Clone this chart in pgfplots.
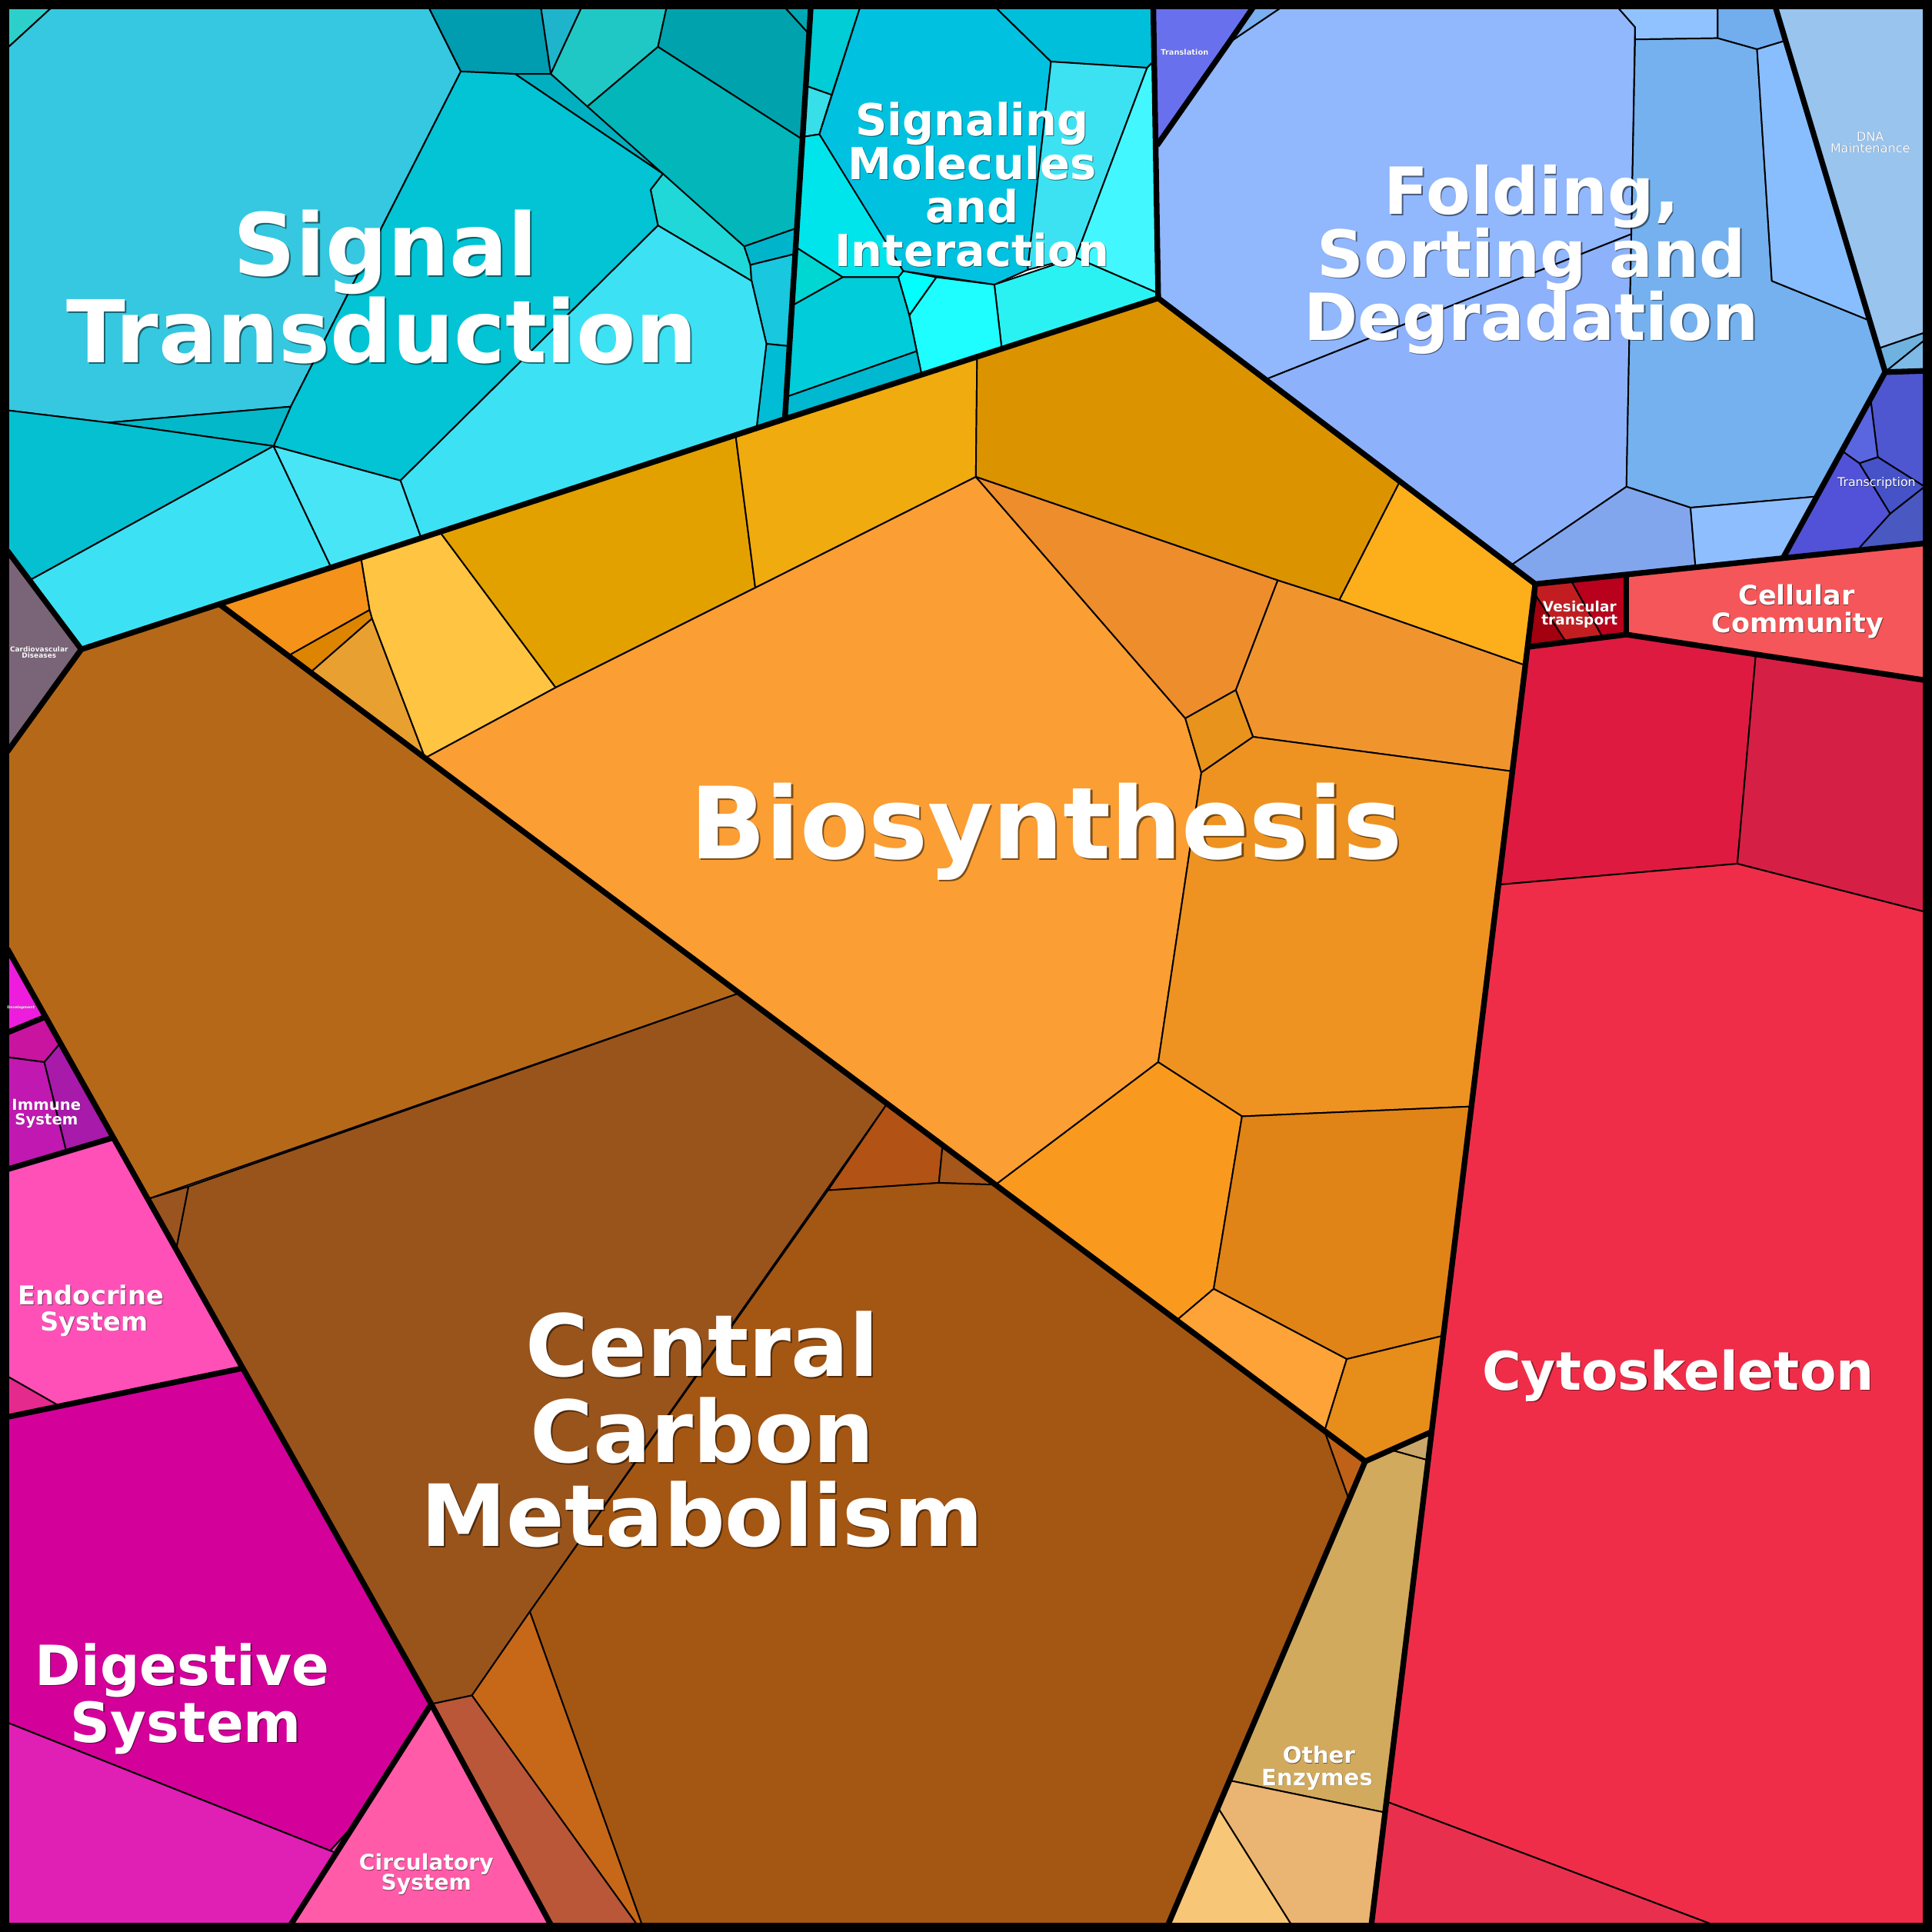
\documentclass[border=0pt]{standalone}
\usepackage{fontspec}
\setmainfont{DejaVu Sans}
\usepackage{pgfplots}
\pgfplotsset{compat=1.18}
% Signal Transduction
\definecolor{s1}{HTML}{2DCFCB}\definecolor{s2}{HTML}{35C8E0}\definecolor{s3}{HTML}{009CB0}
\definecolor{s4}{HTML}{1EB5CC}\definecolor{s5}{HTML}{1FC8C5}\definecolor{s6}{HTML}{00A3AD}
\definecolor{s7}{HTML}{00A8B5}\definecolor{s8}{HTML}{02B6BA}\definecolor{s9}{HTML}{00B0C0}
\definecolor{s10}{HTML}{20D8D8}\definecolor{s11}{HTML}{00B5CB}\definecolor{s12}{HTML}{19C7DE}
\definecolor{s13}{HTML}{00BCD4}\definecolor{s14}{HTML}{02C4D4}\definecolor{s15}{HTML}{3CE1F4}
\definecolor{s16}{HTML}{02B8C9}\definecolor{s17}{HTML}{05C0D0}\definecolor{s18}{HTML}{3CE2F4}
\definecolor{s19}{HTML}{48E5F6}
% Signaling Molecules
\definecolor{m1}{HTML}{00CDD5}\definecolor{m2}{HTML}{38DEE8}\definecolor{m3}{HTML}{00C2E0}
\definecolor{m4}{HTML}{00BFDB}\definecolor{m5}{HTML}{3DE2F2}\definecolor{m6}{HTML}{42F7FF}
\definecolor{m7}{HTML}{2AF2F2}\definecolor{m8}{HTML}{00FFFF}\definecolor{m9}{HTML}{1EFDFF}
\definecolor{m10}{HTML}{00E5EC}\definecolor{m11}{HTML}{00D6D2}\definecolor{m12}{HTML}{00CCDA}
\definecolor{m13}{HTML}{00B8D0}
% Biosynthesis
\definecolor{b1}{HTML}{F5921A}\definecolor{b2}{HTML}{DD8400}\definecolor{b3}{HTML}{E8A030}
\definecolor{b4}{HTML}{FFC441}\definecolor{b5}{HTML}{E3A100}\definecolor{b6}{HTML}{F0AB0E}
\definecolor{b7}{HTML}{DC9300}\definecolor{b8}{HTML}{FDAF1B}\definecolor{b9}{HTML}{FB9E33}
\definecolor{b10}{HTML}{EE8D2C}\definecolor{b11}{HTML}{E8931C}\definecolor{b12}{HTML}{F0952E}
\definecolor{b13}{HTML}{EE9322}\definecolor{b14}{HTML}{F99A1E}\definecolor{b15}{HTML}{E08417}
\definecolor{b16}{HTML}{FDA337}\definecolor{b17}{HTML}{E78D1A}
% Central carbon
\definecolor{c1}{HTML}{B56918}\definecolor{c2}{HTML}{9A5420}\definecolor{c3}{HTML}{99541C}
\definecolor{c4}{HTML}{B25214}\definecolor{c5}{HTML}{A5561A}\definecolor{c6}{HTML}{A45613}
\definecolor{c7}{HTML}{BF6218}\definecolor{c8}{HTML}{C66818}\definecolor{c9}{HTML}{BA5738}
% Other enzymes
\definecolor{o1}{HTML}{D2AA5E}\definecolor{o2}{HTML}{C9A66A}\definecolor{o3}{HTML}{EAB472}
\definecolor{o4}{HTML}{F7C676}
% Cytoskeleton etc.
\definecolor{y1}{HTML}{DF1A40}\definecolor{y2}{HTML}{D61F45}\definecolor{y3}{HTML}{F02D48}
\definecolor{y4}{HTML}{E8304E}
\definecolor{v1}{HTML}{A30010}\definecolor{v2}{HTML}{C21E22}\definecolor{v3}{HTML}{B9001C}
\definecolor{cc}{HTML}{F55659}
% Folding etc.
\definecolor{f0}{HTML}{7AAFF0}\definecolor{f1}{HTML}{91B7FD}\definecolor{f2}{HTML}{8DB2FB}
\definecolor{f3}{HTML}{90C2FF}\definecolor{f4}{HTML}{72ADEE}\definecolor{f5}{HTML}{74B1EE}
\definecolor{f6}{HTML}{89BEFE}\definecolor{f7}{HTML}{81A6EE}\definecolor{f8}{HTML}{8FBEFF}
\definecolor{t0}{HTML}{6870EE}
\definecolor{d1}{HTML}{98C4EE}\definecolor{d2}{HTML}{6FB2DF}\definecolor{d3}{HTML}{7DBAE8}
\definecolor{tr1}{HTML}{4E56D0}\definecolor{tr2}{HTML}{5A65E0}\definecolor{tr3}{HTML}{4552C8}
\definecolor{tr4}{HTML}{5152D8}\definecolor{tr5}{HTML}{4A58C2}
% left side
\definecolor{cardio}{HTML}{7A6478}\definecolor{dev}{HTML}{EE1CDC}
\definecolor{im1}{HTML}{C8149E}\definecolor{im2}{HTML}{C018B0}\definecolor{im3}{HTML}{A81AAA}
\definecolor{en1}{HTML}{FF50B8}\definecolor{en2}{HTML}{E42A8C}
\definecolor{dg1}{HTML}{D4009A}\definecolor{dg2}{HTML}{E01FB5}\definecolor{dg3}{HTML}{E83CB0}
\definecolor{circ}{HTML}{FF5BA8}

\newcommand{\cell}[2]{\addplot[fill=#1,draw=black,line width=0.35pt,line join=round] coordinates {#2} -- cycle;}
\newcommand{\thick}[1]{\addplot[draw=black,line width=1.3pt,line join=round] coordinates {#1};}
\newcommand{\clab}[5]{%
 \node[anchor=base,text=black,opacity=0.5,inner sep=0pt,font=#4\fontsize{#3}{#3}\selectfont] at ([xshift={0.018*#3pt},yshift={-0.018*#3pt}]axis cs:#1,#2) {#5};
 \node[anchor=base,text=white,inner sep=0pt,font=#4\fontsize{#3}{#3}\selectfont] at (axis cs:#1,#2) {#5};}

\begin{document}
\begin{tikzpicture}
\begin{axis}[width=15.68cm,height=15.68cm,scale only axis,
  xmin=0,xmax=1568,ymin=0,ymax=1568,y dir=reverse,hide axis]
% ---- Signal Transduction
\cell{s1}{(6,6)(42,6)(6,39)}
\cell{s2}{(42,6)(348,6)(374,58)(236,330)(88,343)(6,333)(6,39)}
\cell{s3}{(348,6)(439,6)(447,60)(418,60)(374,58)}
\cell{s4}{(439,6)(472,6)(447,60)}
\cell{s5}{(472,6)(541,6)(534,38)(476,87)(447,60)}
\cell{s6}{(541,6)(637,6)(657,28)(651,113)(534,38)}
\cell{s7}{(637,6)(658,6)(657,28)}
\cell{s8}{(534,38)(651,113)(647,185)(604,200)(476,87)}
\cell{s9}{(418,60)(447,60)(538,141)}
\cell{s10}{(538,141)(604,200)(609,215)(610,228)(534,183)(528,154)}
\cell{s11}{(604,200)(647,185)(645.5,206)(609,215)}
\cell{s12}{(609,215)(645.5,206)(641,281)(622,279)(610,228)}
\cell{s13}{(622,279)(641,281)(637,340)(614,347.5)}
\cell{s14}{(374,58)(418,60)(538,141)(528,154)(534,183)(325,390)(222,362)(236,330)}
\cell{s15}{(534,183)(610,228)(622,279)(614,347.5)(342,437.3)(325,390)}
\cell{s16}{(88,343)(236,330)(222,362)}
\cell{s17}{(6,333)(88,343)(222,362)(24,471)(6,447)}
\cell{s18}{(24,471)(222,362)(269,461)(66,527)}
\cell{s19}{(222,362)(325,390)(342,437.3)(269,461)}
% ---- Signaling Molecules and Interaction
\cell{m1}{(658,6)(698,6)(675,77)(655,70)}
\cell{m2}{(655,70)(675,77)(665,109)(652,111)}
\cell{m3}{(665,109)(698,6)(808,6)(853,50)(834,219)(807,231)(733,220)}
\cell{m4}{(808,6)(936,6)(937,49)(931,55)(853,50)}
\cell{m5}{(853,50)(931,55)(873,209)(834,219)}
\cell{m6}{(931,55)(937,49)(940,238)(873,209)}
\cell{m7}{(807,231)(873,209)(940,238)(940,242)(813,283)}
\cell{m8}{(733,220)(760,225)(738,256)(729,225)}
\cell{m9}{(760,225)(807,231)(813,283)(748,304)(744,285)(738,256)}
\cell{m10}{(652,111)(665,109)(720,198)(733,220)(729,225)(684,225)(646.5,201)}
\cell{m11}{(646.5,201)(684,225)(643,248)}
\cell{m12}{(643,248)(684,225)(729,225)(738,256)(744,285)(638.5,322)}
\cell{m13}{(638.5,322)(744,285)(748,304)(637,340)}
% ---- Translation, Folding, DNA, Transcription
\cell{t0}{(936,6)(1017,6)(997,35)(939,118)}
\cell{f0}{(1017,6)(1040,6)(997,35)}
\cell{f1}{(939,118)(997,35)(1040,6)(1313,6)(1327,22)(1324,190)(1027,308)(940,242)}
\cell{f2}{(1027,308)(1324,190)(1320,395)(1226,459)}
\cell{f3}{(1313,6)(1394,6)(1394,31)(1327,32)(1327,22)}
\cell{f4}{(1394,6)(1441,6)(1449,33)(1426,40)(1394,31)}
\cell{f5}{(1327,32)(1394,31)(1426,40)(1438,228)(1517,260)(1530,302)(1474,403)(1372,412)(1320,395)}
\cell{f6}{(1426,40)(1449,33)(1517,260)(1438,228)}
\cell{f7}{(1320,395)(1372,412)(1376,460)(1246,474)(1226,459)}
\cell{f8}{(1372,412)(1474,403)(1447,453)(1376,460)}
\cell{d1}{(1441,6)(1562,6)(1562,270)(1524,283)}
\cell{d2}{(1524,283)(1562,270)(1562,276)(1531,301)}
\cell{d3}{(1531,301)(1562,276)(1562,301)}
\cell{tr1}{(1530,302)(1562,301)(1562,395)(1524,371)(1518,323)}
\cell{tr2}{(1518,323)(1524,371)(1509,376)(1495,366)}
\cell{tr3}{(1509,376)(1524,371)(1562,395)(1534,417)}
\cell{tr4}{(1495,366)(1509,376)(1534,417)(1507,447)(1447,453)}
\cell{tr5}{(1534,417)(1562,395)(1562,441)(1507,447)}
% ---- Vesicular, Cellular Community, Cytoskeleton
\cell{v1}{(1247,484)(1271,521)(1240,525)}
\cell{v2}{(1246,474)(1275,471)(1300,516)(1271,521)(1247,484)}
\cell{v3}{(1275,471)(1320,466)(1320,515)(1300,516)}
\cell{cc}{(1320,466)(1562,441)(1562,552)(1320,515)}
\cell{y1}{(1240,525)(1320,515)(1425,531)(1410,701)(1216,718)}
\cell{y2}{(1425,531)(1562,552)(1562,740)(1410,701)}
\cell{y3}{(1216,718)(1410,701)(1562,740)(1562,1562)(1390,1562)(1125,1462)}
\cell{y4}{(1125,1462)(1390,1562)(1113,1562)}
% ---- Biosynthesis
\cell{b1}{(178,490.3)(293,452.7)(300,495)(234,532.2)}
\cell{b2}{(234,532.2)(300,495)(302,502)(252,545.7)}
\cell{b3}{(252,545.7)(302,502)(345,615.2)}
\cell{b4}{(293,452.7)(357,431.7)(451,558)(345,615.2)(302,502)(300,495)}
\cell{b5}{(357,431.7)(597,353.1)(613,477)(451,558)}
\cell{b6}{(597,353.1)(793,289.5)(792,387)(613,477)}
\cell{b7}{(793,289.5)(940,242)(1136,391)(1087,487)(1037,471)(792,387)}
\cell{b8}{(1136,391)(1246,474)(1238,540)(1087,487)}
\cell{b9}{(345,615.2)(451,558)(613,477)(792,387)(962,583)(975,627)(940,862)(808,961.5)}
\cell{b10}{(792,387)(1037,471)(1003,560)(962,583)}
\cell{b11}{(962,583)(1003,560)(1017,598)(975,627)}
\cell{b12}{(1037,471)(1087,487)(1238,540)(1227.4,626)(1017,598)(1003,560)}
\cell{b13}{(975,627)(1017,598)(1227.4,626)(1194.2,898)(1008,906)(940,862)}
\cell{b14}{(940,862)(1008,906)(985,1046)(955,1071.5)(808,961.5)}
\cell{b15}{(1008,906)(1194.2,898)(1171.4,1084)(1093,1103)(985,1046)}
\cell{b16}{(985,1046)(1093,1103)(1075,1161.3)(955,1071.5)}
\cell{b17}{(1093,1103)(1171.4,1084)(1161.9,1162)(1108,1186)(1075,1161.3)}
% ---- Central Carbon Metabolism
\cell{c1}{(66,527)(178,490.3)(600,806)(120,973.1)(6,770)(6,610)}
\cell{c2}{(120,973.1)(153,963)(143,1014.1)}
\cell{c3}{(143,1014.1)(153,963)(600,806)(720,895.7)(430,1308)(383,1376)(350,1383)}
\cell{c4}{(720,895.7)(765,929.4)(762,960)(672,966)}
\cell{c5}{(765,929.4)(808,961.5)(762,960)}
\cell{c6}{(672,966)(762,960)(808,961.5)(1075,1161.3)(1094.8,1217)(948,1562)(521,1562)(430,1308)}
\cell{c7}{(1075,1161.3)(1108,1186)(1094.8,1217)}
\cell{c8}{(383,1376)(430,1308)(521,1562)(517,1562)}
\cell{c9}{(350,1383)(383,1376)(517,1562)(447,1562)}
% ---- Other Enzymes
\cell{o1}{(1108,1186)(1130,1177)(1159,1185)(1124.1,1471)(997.8,1445)}
\cell{o2}{(1130,1177)(1161.9,1162)(1159,1185)}
\cell{o3}{(997.8,1445)(1124.1,1471)(1113,1562)(1048,1562)(988.4,1467)}
\cell{o4}{(988.4,1467)(1048,1562)(948,1562)}
% ---- left side
\cell{cardio}{(6,447)(66,527)(6,610)}
\cell{dev}{(6,770)(37,825.2)(6,838)}
\cell{im1}{(6,838)(37,825.2)(49,846.6)(36,862)(6,858)}
\cell{im2}{(6,858)(36,862)(54,935)(6,949)}
\cell{im3}{(36,862)(49,846.6)(92,923.3)(54,935)}
\cell{en1}{(6,949)(92,923.3)(197,1110.4)(48,1141)(6,1117)}
\cell{en2}{(6,1117)(48,1141)(6,1150)}
\cell{dg1}{(6,1150)(197,1110.4)(350,1383)(288.2,1480)(268,1502)(6,1398)}
\cell{dg3}{(268,1502)(288.2,1480)(273,1504)}
\cell{dg2}{(6,1398)(268,1502)(273,1504)(236,1562)(6,1562)}
\cell{circ}{(350,1383)(447,1562)(236,1562)}
% ---- top-level borders
\thick{(6,447)(66,527)(6,610)}
\thick{(66,527)(637,340)(940,242)}
\thick{(658,6)(637,340)}
\thick{(936,6)(940,242)}
\thick{(939,118)(997,35)(1017,6)}
\thick{(940,242)(1246,474)(1562,441)}
\thick{(1441,6)(1530,302)(1562,301)}
\thick{(1530,302)(1447,453)}
\thick{(1246,474)(1113,1562)}
\thick{(1320,466)(1320,515)}
\thick{(1240,525)(1320,515)(1562,552)}
\thick{(178,490.3)(1108,1186)(1162,1162)}
\thick{(1108,1186)(948,1562)}
\thick{(6,770)(350,1383)(447,1562)}
\thick{(350,1383)(236,1562)}
\thick{(6,1150)(197,1110.4)}
\thick{(6,949)(92,923.3)}
\thick{(6,838)(37,825.2)}
% frame
\addplot[draw=black,line width=2.1pt] coordinates {(3.7,3.7)(1564.3,3.7)(1564.3,1564.3)(3.7,1564.3)} -- cycle;
% ---- labels
\clab{313}{224}{20}{\bfseries}{Signal}
\clab{310}{294}{20}{\bfseries}{Transduction}
\clab{849}{697}{23}{\bfseries}{Biosynthesis}
\clab{570}{1117}{19.8}{\bfseries}{Central}
\clab{570}{1187}{19.8}{\bfseries}{Carbon}
\clab{570}{1255}{19.8}{\bfseries}{Metabolism}
\clab{1243}{174}{15}{\bfseries}{Folding,}
\clab{1243}{225}{15}{\bfseries}{Sorting and}
\clab{1243}{276}{15}{\bfseries}{Degradation}
\clab{789}{110}{10.2}{\bfseries}{Signaling}
\clab{789}{146}{10.2}{\bfseries}{Molecules}
\clab{789}{181}{10.2}{\bfseries}{and}
\clab{789}{216}{10.2}{\bfseries}{Interaction}
\clab{1362}{1128}{12.3}{\bfseries}{Cytoskeleton}
\clab{148}{1368}{12.8}{\bfseries}{Digestive}
\clab{151}{1414}{12.8}{\bfseries}{System}
\clab{74}{1059}{6}{\bfseries}{Endocrine}
\clab{76.5}{1080}{6}{\bfseries}{System}
\clab{37.7}{901}{3.5}{\bfseries}{Immune}
\clab{37.7}{912.6}{3.5}{\bfseries}{System}
\clab{17}{818.5}{0.85}{\bfseries}{Development}
\clab{1458}{491}{6.2}{\bfseries}{Cellular}
\clab{1459}{513.5}{6.2}{\bfseries}{Community}
\clab{1282}{496.5}{3.3}{\bfseries}{Vesicular}
\clab{1282}{507}{3.3}{\bfseries}{transport}
\clab{1070.5}{1431}{5.2}{\bfseries}{Other}
\clab{1069}{1449}{5.2}{\bfseries}{Enzymes}
\clab{346}{1518}{5}{\bfseries}{Circulatory}
\clab{346}{1534}{5}{\bfseries}{System}
\clab{961.5}{44.7}{1.75}{\bfseries}{Translation}
\clab{1518}{114.6}{2.86}{\mdseries}{DNA}
\clab{1518}{123.6}{2.86}{\mdseries}{Maintenance}
\clab{1523}{395}{2.8}{\mdseries}{Transcription}
\clab{31.7}{528.9}{1.6}{\bfseries}{Cardiovascular}
\clab{31.7}{534.1}{1.6}{\bfseries}{Diseases}
\end{axis}
\end{tikzpicture}
\end{document}
